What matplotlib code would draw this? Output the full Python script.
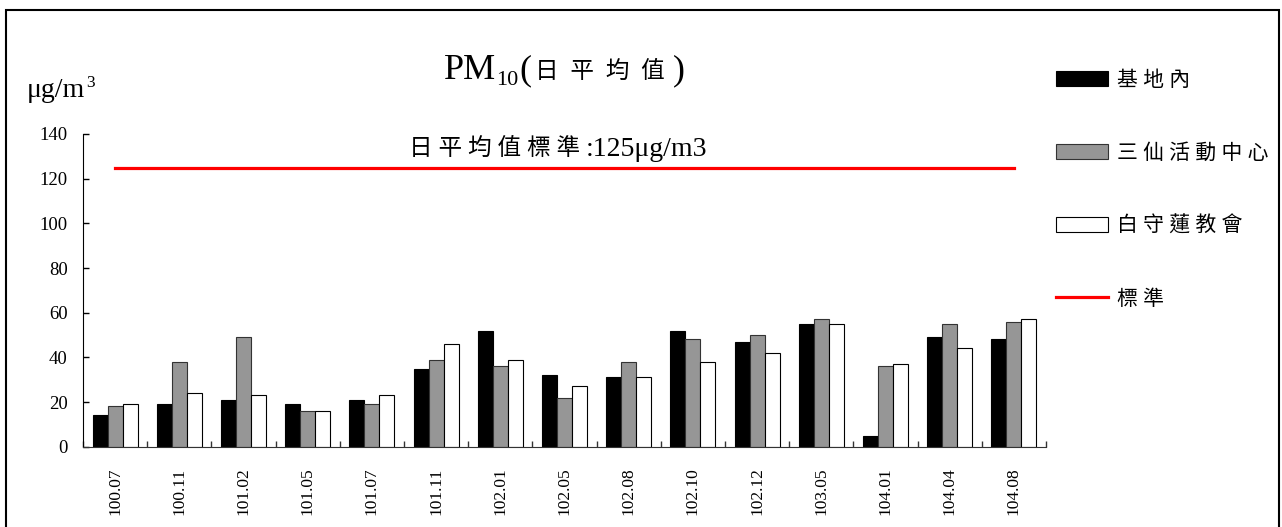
import matplotlib
matplotlib.use("Agg")
import matplotlib.pyplot as plt
import numpy as np
from matplotlib.patches import Rectangle

serif = ['Liberation Serif', 'Noto Sans CJK TC']
plt.rcParams['font.family'] = serif

periods = ["100.07", "100.11", "101.02", "101.05", "101.07", "101.11", "102.01", "102.05",
           "102.08", "102.10", "102.12", "103.05", "104.01", "104.04", "104.08"]
site_base = [14, 19, 21, 19, 21, 35, 52, 32, 31, 52, 47, 55, 5, 49, 48]
site_sanxian = [18, 38, 49, 16, 19, 39, 36, 22, 38, 48, 50, 57, 36, 55, 56]
site_church = [19, 24, 23, 16, 23, 46, 39, 27, 31, 38, 42, 55, 37, 44, 57]
standard = [125] * len(periods)
names = ["基地內", "三仙活動中心", "白守蓮教會", "標準"]

W, H = 1282, 527
fig = plt.figure(figsize=(W / 100, H / 100), dpi=100)
ax = fig.add_axes([83 / W, 1 - 446.7 / H, (1046 - 83) / W, (446.7 - 134) / H])

x = np.arange(len(periods))
bw = 0.233
b1 = ax.bar(x - bw, site_base, bw, color='black', edgecolor='black', lw=0.8)
b2 = ax.bar(x, site_sanxian, bw, color='#969696', edgecolor='#333333', lw=0.8)
b3 = ax.bar(x + bw, site_church, bw, color='white', edgecolor='black', lw=0.8)
ln, = ax.plot(x, standard, color='#ff0000', lw=2.3)

ax.set_xlim(-0.5, len(periods) - 0.5)
ax.set_ylim(0, 140)
ax.set_yticks(range(0, 141, 20))
ax.set_xticks(x)
ax.set_xticklabels(periods, rotation=90, fontsize=12.5)
ax.set_xticks(np.arange(-0.5, len(periods), 1), minor=True)
ax.tick_params(axis='x', which='major', length=0, pad=15)
ax.tick_params(axis='x', which='minor', direction='in', length=4, width=1, color='#333333')
ax.tick_params(axis='y', direction='in', length=4.3, width=1, pad=11, labelsize=13.5)
for s in ['top', 'right']:
    ax.spines[s].set_visible(False)
ax.spines['bottom'].set_color('#333333')

fig.legend([b1, b2, b3, ln], [" ".join(n) for n in names], loc='upper left',
           bbox_to_anchor=(1056 / W, 1 - 71 / H), frameon=False, fontsize=15,
           handlelength=2.5, handleheight=0.72, handletextpad=0.45,
           labelspacing=2.55, borderpad=0, borderaxespad=0)

# texts made of pieces with different sizes, placed one after another
r = fig.canvas.get_renderer()
def chain(x0, y0, parts):
    xp = x0
    for s, size, dy, gap in parts:
        t = fig.text(xp / W, 1 - (y0 + dy) / H, s, fontsize=size, va='baseline', ha='left')
        xp += t.get_window_extent(r).width + gap

chain(444, 79, [("PM", 26, 0, 0), ("10", 16, 6, 1), ("(", 26, 0, 4),
                ("日  平  均  值", 17, 0, 8), (")", 26, 0, 0)])
chain(409, 156, [("日 平 均 值 標 準", 17, 0, 6), (":125μg/m3", 20, 0, 0)])
chain(27, 97, [("μg/m", 20, 0, 1), ("3", 12.5, -10, 0)])

fig.add_artist(Rectangle((6 / W, -0.05), 1273 / W, 1 - 10 / H + 0.05,
                         transform=fig.transFigure, fill=False, lw=1.5, ec='black'))

fig.savefig("out.png", dpi=100)
